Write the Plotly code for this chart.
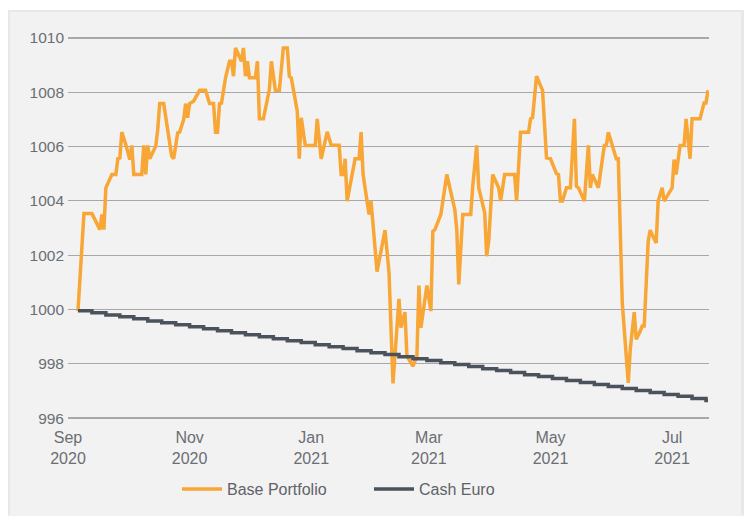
import plotly.graph_objects as go

# ---- Data ----
base_dates = [
    "2020-09-06", "2020-09-09", "2020-09-13", "2020-09-17", "2020-09-18", "2020-09-19", "2020-09-20",
    "2020-09-23", "2020-09-25", "2020-09-26", "2020-09-27", "2020-09-28", "2020-09-30", "2020-10-02",
    "2020-10-03", "2020-10-04", "2020-10-08", "2020-10-09", "2020-10-10", "2020-10-11", "2020-10-12",
    "2020-10-15", "2020-10-16", "2020-10-17", "2020-10-19", "2020-10-23", "2020-10-24", "2020-10-26",
    "2020-10-27", "2020-10-29", "2020-10-30", "2020-10-31", "2020-11-01", "2020-11-03", "2020-11-06",
    "2020-11-09", "2020-11-11", "2020-11-13", "2020-11-14", "2020-11-15", "2020-11-16", "2020-11-17",
    "2020-11-19", "2020-11-21", "2020-11-22", "2020-11-23", "2020-11-24", "2020-11-27", "2020-11-28",
    "2020-11-29", "2020-11-30", "2020-12-01", "2020-12-04", "2020-12-05", "2020-12-06", "2020-12-08",
    "2020-12-11", "2020-12-12", "2020-12-14", "2020-12-16", "2020-12-18", "2020-12-20", "2020-12-21",
    "2020-12-22", "2020-12-25", "2020-12-26", "2020-12-27", "2020-12-29", "2021-01-03", "2021-01-04",
    "2021-01-06", "2021-01-09", "2021-01-11", "2021-01-15", "2021-01-16", "2021-01-17", "2021-01-18",
    "2021-01-19", "2021-01-23", "2021-01-25", "2021-01-26", "2021-01-27", "2021-01-30", "2021-01-31",
    "2021-02-03", "2021-02-07", "2021-02-09", "2021-02-11", "2021-02-14", "2021-02-15", "2021-02-17",
    "2021-02-18", "2021-02-21", "2021-02-23", "2021-02-24", "2021-02-25", "2021-02-28", "2021-03-02",
    "2021-03-03", "2021-03-04", "2021-03-07", "2021-03-10", "2021-03-14", "2021-03-15", "2021-03-16",
    "2021-03-18", "2021-03-22", "2021-03-23", "2021-03-25", "2021-03-26", "2021-03-29", "2021-03-30",
    "2021-03-31", "2021-04-02", "2021-04-05", "2021-04-06", "2021-04-08", "2021-04-13", "2021-04-14",
    "2021-04-16", "2021-04-20", "2021-04-21", "2021-04-22", "2021-04-24", "2021-04-27", "2021-04-29",
    "2021-05-01", "2021-05-04", "2021-05-05", "2021-05-06", "2021-05-07", "2021-05-09", "2021-05-11",
    "2021-05-13", "2021-05-14", "2021-05-15", "2021-05-18", "2021-05-20", "2021-05-21", "2021-05-22",
    "2021-05-25", "2021-05-27", "2021-05-28", "2021-05-29", "2021-05-30", "2021-06-01", "2021-06-03",
    "2021-06-04", "2021-06-06", "2021-06-09", "2021-06-10", "2021-06-12", "2021-06-13", "2021-06-15",
    "2021-06-16", "2021-06-17", "2021-06-19", "2021-06-20", "2021-06-23", "2021-06-24", "2021-06-26",
    "2021-06-27", "2021-07-01", "2021-07-02", "2021-07-03", "2021-07-05", "2021-07-07", "2021-07-08",
    "2021-07-10", "2021-07-11", "2021-07-15", "2021-07-17", "2021-07-18", "2021-07-19",
]
base_values = [
    999.94, 1003.53, 1003.53, 1002.94, 1003.50, 1002.94, 1004.48,
    1004.97, 1004.97, 1005.55, 1005.58, 1006.53, 1006.07, 1005.52,
    1006.04, 1004.97, 1004.97, 1006.04, 1004.97, 1006.04, 1005.55,
    1006.01, 1006.62, 1007.58, 1007.58, 1005.64, 1005.55, 1006.50,
    1006.53, 1006.99, 1007.58, 1007.06, 1007.58, 1007.67, 1008.07,
    1008.07, 1007.58, 1007.58, 1006.53, 1006.53, 1007.58, 1007.60,
    1008.53, 1009.14, 1009.14, 1008.59, 1009.63, 1009.14, 1009.63,
    1008.59, 1009.14, 1008.53, 1008.53, 1009.14, 1007.02, 1007.02,
    1008.10, 1009.14, 1008.07, 1008.07, 1009.63, 1009.63, 1008.59,
    1008.53, 1007.30, 1005.55, 1007.06, 1006.04, 1006.04, 1007.02,
    1005.55, 1006.54, 1006.05, 1006.05, 1004.97, 1004.97, 1005.55,
    1003.99, 1005.55, 1005.55, 1006.53, 1004.97, 1003.50, 1003.99,
    1001.39, 1002.92, 1001.37, 997.28, 1000.39, 999.33, 999.90,
    998.28, 997.91, 998.28, 1000.88, 999.33, 1000.88, 999.94,
    1002.88, 1002.94, 1003.50, 1004.97, 1003.68, 1002.94, 1000.92,
    1003.50, 1003.50, 1004.54, 1006.04, 1004.48, 1003.56, 1001.96,
    1002.51, 1004.97, 1004.48, 1003.99, 1004.97, 1004.97, 1003.99,
    1006.53, 1006.53, 1007.02, 1007.06, 1008.59, 1008.07, 1005.58,
    1005.55, 1005.00, 1004.97, 1003.99, 1003.99, 1004.48, 1004.48,
    1007.02, 1004.54, 1004.48, 1003.99, 1006.04, 1004.48, 1004.97,
    1004.48, 1005.55, 1006.04, 1006.04, 1006.53, 1006.04, 1005.55,
    1005.55, 1000.25, 997.30, 998.53, 999.90, 998.90, 999.20,
    999.39, 999.39, 1002.51, 1002.92, 1002.45, 1003.99, 1004.48,
    1003.99, 1004.48, 1005.52, 1004.97, 1006.04, 1006.04, 1007.02,
    1005.55, 1007.02, 1007.02, 1007.60, 1007.60, 1008.07,
]

cash_dates = [
    "2020-09-06", "2020-09-13", "2020-09-20", "2020-09-27", "2020-10-04", "2020-10-11", "2020-10-18",
    "2020-10-25", "2020-11-01", "2020-11-08", "2020-11-15", "2020-11-22", "2020-11-29", "2020-12-06",
    "2020-12-13", "2020-12-20", "2020-12-27", "2021-01-03", "2021-01-10", "2021-01-17", "2021-01-24",
    "2021-01-31", "2021-02-07", "2021-02-14", "2021-02-21", "2021-02-28", "2021-03-07", "2021-03-14",
    "2021-03-21", "2021-03-28", "2021-04-04", "2021-04-11", "2021-04-18", "2021-04-25", "2021-05-02",
    "2021-05-09", "2021-05-16", "2021-05-23", "2021-05-30", "2021-06-06", "2021-06-13", "2021-06-20",
    "2021-06-27", "2021-07-04", "2021-07-11", "2021-07-18", "2021-07-19",
]
cash_values = [
    999.95, 999.88, 999.80, 999.73, 999.66, 999.58, 999.51,
    999.44, 999.36, 999.29, 999.22, 999.14, 999.07, 999.00,
    998.92, 998.85, 998.78, 998.70, 998.63, 998.56, 998.48,
    998.41, 998.34, 998.26, 998.19, 998.12, 998.04, 997.97,
    997.90, 997.82, 997.75, 997.68, 997.60, 997.53, 997.46,
    997.38, 997.31, 997.24, 997.16, 997.09, 997.02, 996.94,
    996.87, 996.80, 996.72, 996.65, 996.65,
]

x_tick_vals = ["2020-09-01", "2020-11-01", "2021-01-01", "2021-03-01", "2021-05-01", "2021-07-01"]
x_tick_text = ["Sep<br>2020", "Nov<br>2020", "Jan<br>2021", "Mar<br>2021", "May<br>2021", "Jul<br>2021"]
y_tick_vals = [996, 998, 1000, 1002, 1004, 1006, 1008, 1010]
series_names = ["Base Portfolio", "Cash Euro"]

# ---- Figure ----
W, H = 746, 517
L, R, T, B = 68, 37, 36, 96
pw, ph = W - L - R, H - T - B

def px_x(p):
    return (p - L) / pw

def px_y(p):
    return (H - B - p) / ph

BG = "#f2f2f2"
TXT = "#6b6e73"
fig = go.Figure()
fig.add_trace(go.Scatter(
    x=base_dates, y=base_values, mode="lines", name=series_names[0],
    line=dict(color="#F8A635", width=3.5),
))
fig.add_trace(go.Scatter(
    x=cash_dates, y=cash_values, mode="lines", name=series_names[1],
    line=dict(color="#4a525b", width=3.5, shape="hv"),
))

fig.update_layout(
    width=W, height=H,
    margin=dict(l=L, r=R, t=T, b=B, pad=0),
    paper_bgcolor="white",
    plot_bgcolor=BG,
    font=dict(family="Liberation Sans, Arial, sans-serif", size=15, color=TXT),
    showlegend=True,
    legend=dict(
        orientation="h", x=px_x(177), xanchor="left", y=px_y(489), yanchor="middle",
        font=dict(size=16, color="#5f6268"), bgcolor="rgba(0,0,0,0)",
        entrywidth=137, entrywidthmode="pixels", traceorder="normal", itemwidth=40,
    ),
    xaxis=dict(
        type="date", range=["2020-09-01", "2021-07-19 12:00"],
        tickvals=x_tick_vals, ticktext=x_tick_text,
        showgrid=False, zeroline=False, showline=False, ticks="",
        tickfont=dict(size=16, color=TXT), ticklabelstandoff=6,
    ),
    yaxis=dict(
        range=[995.93, 1010.07], tickvals=y_tick_vals,
        showgrid=True, gridcolor="#a8a8a8", gridwidth=1.3,
        zeroline=False, showline=False, ticks="",
        tickfont=dict(size=15.5, color=TXT), ticklabelstandoff=3,
    ),
    hovermode=False,
    shapes=[
        dict(type="rect", xref="paper", yref="paper",
             x0=px_x(8), x1=px_x(744), y0=px_y(517), y1=px_y(10),
             fillcolor="#e8e8e8", line=dict(width=0), layer="below"),
        dict(type="rect", xref="paper", yref="paper",
             x0=px_x(10), x1=px_x(741), y0=px_y(517), y1=px_y(12),
             fillcolor=BG, line=dict(width=0), layer="below"),
        dict(type="rect", xref="x", yref="paper",
             x0="2020-09-01", x1="2020-09-04", y0=-0.01, y1=1.01,
             fillcolor=BG, line=dict(width=0), layer="below"),
    ],
)

fig.write_html(
    "out.html",
    config={"displayModeBar": False, "staticPlot": True},
    post_script="document.body.style.margin='0px';document.body.style.overflow='hidden';",
)
